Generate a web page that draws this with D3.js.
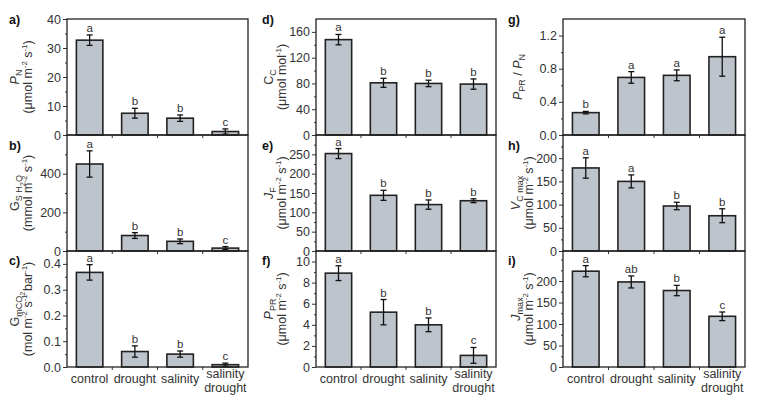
<!DOCTYPE html>
<html><head><meta charset="utf-8">
<script src="https://cdn.jsdelivr.net/npm/d3@7"></script>
<style>
html,body{margin:0;padding:0;background:#fff;}
svg{display:block;font-family:"Liberation Sans",Arial,sans-serif;}
</style></head>
<body><svg id="c" width="762" height="412"></svg>
<script>
// ---------- data ----------
const categories = ["control", "drought", "salinity", "salinity drought"];

const pnMean = [32.7, 7.5, 5.8, 1.2];
const pnErr = [1.8, 1.7, 1.1, 0.9];
const pnLetters = ["a", "b", "b", "c"];
const pnTicks = [0, 10, 20, 30, 40];
const pnMinor = [5, 15, 25, 35];

const gsMean = [450, 80, 50, 15];
const gsErr = [68, 15, 12, 8];
const gsLetters = ["a", "b", "b", "c"];
const gsTicks = [0, 200, 400];
const gsMinor = [100, 300, 500];

const gmMean = [0.367, 0.060, 0.050, 0.009];
const gmErr = [0.030, 0.022, 0.012, 0.006];
const gmLetters = ["a", "b", "b", "c"];
const gmTicks = [0.0, 0.1, 0.2, 0.3, 0.4];
const gmMinor = [0.05, 0.15, 0.25, 0.35];

const ccMean = [148, 81, 80, 79];
const ccErr = [8, 7, 5, 8];
const ccLetters = ["a", "b", "b", "b"];
const ccTicks = [0, 40, 80, 120, 160];
const ccMinor = [20, 60, 100, 140];

const jfMean = [252, 144, 120, 130];
const jfErr = [13, 13, 12, 5];
const jfLetters = ["a", "b", "b", "b"];
const jfTicks = [0, 50, 100, 150, 200, 250];
const jfMinor = [25, 75, 125, 175, 225, 275];

const pprMean = [8.9, 5.2, 4.0, 1.1];
const pprErr = [0.7, 1.2, 0.65, 0.75];
const pprLetters = ["a", "b", "b", "c"];
const pprTicks = [0, 2, 4, 6, 8, 10];
const pprMinor = [1, 3, 5, 7, 9];

const ratioMean = [0.27, 0.695, 0.72, 0.945];
const ratioErr = [0.015, 0.07, 0.065, 0.235];
const ratioLetters = ["b", "a", "a", "a"];
const ratioTicks = [0.0, 0.4, 0.8, 1.2];
const ratioMinor = [0.2, 0.6, 1.0];

const vcMean = [179, 150, 97, 76];
const vcErr = [22, 14, 8, 15];
const vcLetters = ["a", "a", "b", "b"];
const vcTicks = [0, 50, 100, 150, 200];
const vcMinor = [25, 75, 125, 175, 225];

const jmMean = [223, 198, 178, 118];
const jmErr = [13, 14, 12, 10];
const jmLetters = ["a", "ab", "b", "c"];
const jmTicks = [0, 50, 100, 150, 200];
const jmMinor = [25, 75, 125, 175, 225, 250];

// ---------- layout ----------
const cols = [{x0: 67, x1: 248, lab: 9, yl: 15}, {x0: 316, x1: 496, lab: 262, yl: 269}, {x0: 563, x1: 745, lab: 508, yl: 516}];
const rows = [{y0: 19, y1: 135, lab: 24}, {y0: 135, y1: 251, lab: 150}, {y0: 251, y1: 367, lab: 265}];

const U = (t) => ({t});
const I = (t) => ({t, i: true});
const SB = (t) => ({t, s: "sub"});
const SS = (t) => ({t, s: "subsub"});
const SP = (t) => ({t, s: "sup"});
const unitsM = [U("(μmol m"), SP("-2"), U(" s"), SP("-1"), U(")")];

const panels = [
  {id: "a)", c: 0, r: 0, mean: pnMean, err: pnErr, letters: pnLetters, ticks: pnTicks, minor: pnMinor, max: 40, fmt: d3.format("d"),
   label: [[I("P"), SB("N")], unitsM]},
  {id: "b)", c: 0, r: 1, mean: gsMean, err: gsErr, letters: gsLetters, ticks: gsTicks, minor: gsMinor, max: 600, fmt: d3.format("d"),
   label: [[U("G"), SB("S H"), SS("2"), SB("O")], [U("(mmol m"), SP("-2"), U(" s"), SP("-1"), U(")")]]},
  {id: "c)", c: 0, r: 2, mean: gmMean, err: gmErr, letters: gmLetters, ticks: gmTicks, minor: gmMinor, max: 0.45, fmt: d3.format(".1f"),
   label: [[U("G"), SB("mCO"), SS("2")], [U("(mol m"), SP("-2"), U(" s"), SP("-1"), U(" bar"), SP("-1"), U(")")]]},
  {id: "d)", c: 1, r: 0, mean: ccMean, err: ccErr, letters: ccLetters, ticks: ccTicks, minor: ccMinor, max: 180, fmt: d3.format("d"),
   label: [[U("C"), SB("C")], [U("(μmol mol"), SP("-1"), U(")")]]},
  {id: "e)", c: 1, r: 1, mean: jfMean, err: jfErr, letters: jfLetters, ticks: jfTicks, minor: jfMinor, max: 300, fmt: d3.format("d"),
   label: [[I("J"), SB("F")], unitsM]},
  {id: "f)", c: 1, r: 2, mean: pprMean, err: pprErr, letters: pprLetters, ticks: pprTicks, minor: pprMinor, max: 11, fmt: d3.format("d"),
   label: [[I("P"), SB("PR")], unitsM]},
  {id: "g)", c: 2, r: 0, mean: ratioMean, err: ratioErr, letters: ratioLetters, ticks: ratioTicks, minor: ratioMinor, max: 1.4, fmt: d3.format(".1f"),
   label: [[I("P"), SB("PR"), U(" / "), I("P"), SB("N")]]},
  {id: "h)", c: 2, r: 1, mean: vcMean, err: vcErr, letters: vcLetters, ticks: vcTicks, minor: vcMinor, max: 250, fmt: d3.format("d"),
   label: [[I("V"), SB("C max")], unitsM]},
  {id: "i)", c: 2, r: 2, mean: jmMean, err: jmErr, letters: jmLetters, ticks: jmTicks, minor: jmMinor, max: 270, fmt: d3.format("d"),
   label: [[I("J"), SB("max")], unitsM]},
];

const svg = d3.select("#c");
const FS = 12.5;
const barFill = "#bec4cc";
const ink = "#222";
const txt = "#333";

function rich(sel, segs) {
  let prev = 0;
  segs.forEach(sg => {
    let off = 0, size = FS;
    if (sg.s === "sub") { off = 3; size = FS * 0.72; }
    if (sg.s === "subsub") { off = 5.5; size = FS * 0.6; }
    if (sg.s === "sup") { off = -5; size = FS * 0.62; }
    sel.append("tspan").attr("dy", off - prev).attr("font-size", size)
      .attr("font-style", sg.i ? "italic" : null).text(sg.t);
    prev = off;
  });
}

panels.forEach(p => {
  const col = cols[p.c], row = rows[p.r];
  const x = d3.scaleBand().domain(categories).range([col.x0, col.x1]).paddingInner(0.415).paddingOuter(0.2075);
  const y = d3.scaleLinear().domain([0, p.max]).range([row.y1, row.y0]);
  const g = svg.append("g");

  // minor ticks
  const minorAxis = d3.axisLeft(y).tickValues(p.minor.filter(v => v <= p.max)).tickSize(2).tickFormat("");
  const mg = g.append("g").attr("transform", `translate(${col.x0},0)`).call(minorAxis);
  mg.select(".domain").remove();
  mg.selectAll("line").attr("stroke", txt).attr("stroke-width", 1);

  // major ticks
  const axis = d3.axisLeft(y).tickValues(p.ticks).tickSize(4).tickPadding(2).tickFormat(p.fmt);
  const ag = g.append("g").attr("transform", `translate(${col.x0},0)`).call(axis);
  ag.select(".domain").remove();
  ag.selectAll("line").attr("stroke", txt).attr("stroke-width", 1);
  ag.selectAll("text").attr("font-size", FS).attr("fill", txt).attr("font-family", "Liberation Sans, Arial, sans-serif");

  // x ticks at band boundaries
  const step = x.step();
  categories.slice(1).forEach(cat => {
    const bx = x(cat) - step * x.paddingInner() / 2;
    g.append("line").attr("x1", bx).attr("x2", bx).attr("y1", row.y1).attr("y2", row.y1 + 3)
      .attr("stroke", txt).attr("stroke-width", 1);
  });

  // bars
  g.selectAll("rect.bar").data(categories).join("rect").attr("class", "bar")
    .attr("x", d => x(d)).attr("width", x.bandwidth())
    .attr("y", (d, i) => y(p.mean[i])).attr("height", (d, i) => row.y1 - y(p.mean[i]))
    .attr("fill", barFill).attr("stroke", ink).attr("stroke-width", 1.6);

  // error bars
  categories.forEach((cat, i) => {
    const cx = x(cat) + x.bandwidth() / 2;
    const yt = y(p.mean[i] + p.err[i]), yb = y(Math.max(0, p.mean[i] - p.err[i]));
    const eg = g.append("g").attr("stroke", "#111").attr("stroke-width", 1.3);
    eg.append("line").attr("x1", cx).attr("x2", cx).attr("y1", yt).attr("y2", yb);
    eg.append("line").attr("x1", cx - 3).attr("x2", cx + 3).attr("y1", yt).attr("y2", yt);
    eg.append("line").attr("x1", cx - 3).attr("x2", cx + 3).attr("y1", yb).attr("y2", yb);
    g.append("text").attr("x", cx).attr("y", yt - 3).attr("text-anchor", "middle")
      .attr("font-size", 11.5).attr("fill", txt).text(p.letters[i]);
  });

  // frame
  g.append("rect").attr("x", col.x0).attr("y", row.y0).attr("width", col.x1 - col.x0).attr("height", row.y1 - row.y0)
    .attr("fill", "none").attr("stroke", ink).attr("stroke-width", 1.3);

  // panel letter
  svg.append("text").attr("x", col.lab).attr("y", row.lab).attr("font-size", 12.5).attr("font-weight", "bold")
    .attr("fill", "#111").text(p.id);

  // y label
  const cy = (row.y0 + row.y1) / 2;
  const nl = p.label.length;
  p.label.forEach((segs, li) => {
    const lx = nl === 1 ? col.yl + 2 : col.yl + li * 13;
    const t = svg.append("text").attr("transform", `translate(${lx + 4},${cy}) rotate(-90)`)
      .attr("text-anchor", "middle").attr("font-size", FS).attr("fill", txt);
    rich(t, segs);
  });

  // category labels on bottom row
  if (p.r === 2) {
    categories.forEach(cat => {
      const cx = x(cat) + x.bandwidth() / 2;
      const words = cat.split(" ");
      const t = g.append("text").attr("text-anchor", "middle").attr("font-size", FS).attr("fill", txt);
      words.forEach((w, wi) => {
        t.append("tspan").attr("x", cx).attr("y", (words.length === 1 ? 383 : 378) + wi * 14).text(w);
      });
    });
  }
});
</script>
</body></html>
